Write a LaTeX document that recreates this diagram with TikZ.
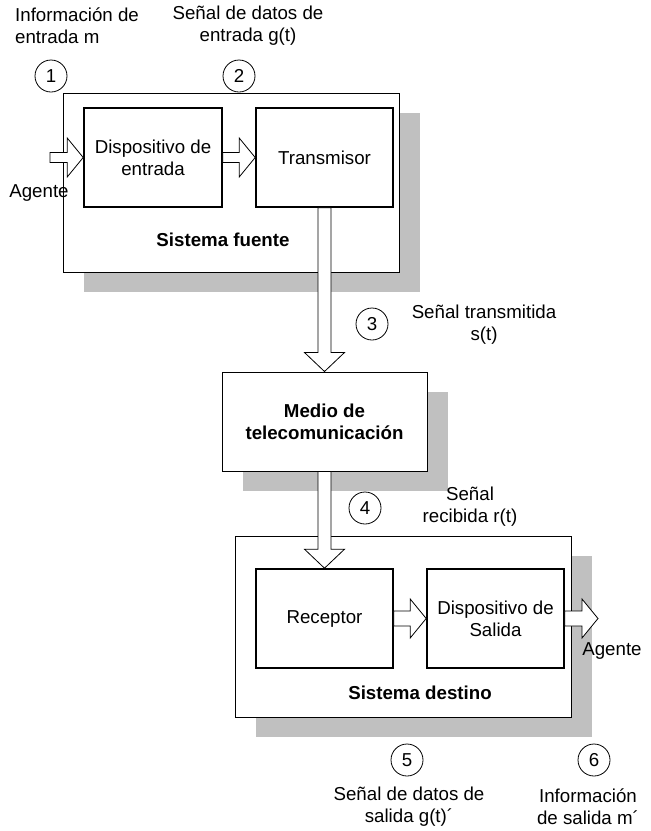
\documentclass[tikz,border=0pt]{standalone}
\usepackage{fontspec}
\setmainfont{Liberation Sans}
\usetikzlibrary{calc,shadows}

% horizontal block arrow: tail node/coordinate, tip node/coordinate, shaft half-width
\newcommand\hblockarrow[3]{%
  \draw[blockarrow] let \p1=(#1), \p2=(#2) in
    (\x1,\y2+#3) -- (\x2-16pt,\y2+#3) -- (\x2-16pt,\y2+19.5pt) -- (\x2,\y2)
    -- (\x2-16pt,\y2-19.5pt) -- (\x2-16pt,\y2-#3) -- (\x1,\y2-#3) -- cycle;}
% vertical (downward) block arrow
\newcommand\vblockarrow[3]{%
  \draw[blockarrow] let \p1=(#1), \p2=(#2) in
    (\x2-#3,\y1) -- (\x2-#3,\y2+19pt) -- (\x2-20pt,\y2+19pt) -- (\x2,\y2)
    -- (\x2+20pt,\y2+19pt) -- (\x2+#3,\y2+19pt) -- (\x2+#3,\y1) -- cycle;}

\begin{document}
\begin{tikzpicture}[x=1pt,y=-1pt,
  every node/.style={inner sep=0pt, font=\fontsize{18.7}{22}\selectfont},
  shadowbox/.style={drop shadow={shadow xshift=21pt, shadow yshift=-20pt, opacity=1, fill=shadowgray}},
  system/.style={draw, line width=0.9pt, fill=white, shadowbox},
  unit/.style={draw, line width=1.6pt, fill=white, align=center},
  medium/.style={draw, line width=1pt, fill=white, align=center, font=\fontsize{18.7}{22}\selectfont\bfseries, shadowbox},
  num/.style={draw, circle, line width=0.8pt, minimum size=32pt},
  label/.style={align=center},
  blockarrow/.style={draw, line width=0.8pt, fill=white, line join=miter},
]
\definecolor{shadowgray}{RGB}{192,192,192}
\useasboundingbox (0,0) rectangle (651,831);

% source system
\node[system, minimum width=336pt, minimum height=179pt] (fuente) at (231,182.5) {};
\node[unit, minimum width=138pt, minimum height=99pt] (entrada) at (153,157.5) {Dispositivo de\\entrada};
\node[unit, minimum width=137pt, minimum height=99pt] (tx) at (324.5,157.5) {Transmisor};
\node[font=\fontsize{18.7}{22}\selectfont\bfseries] (lfuente) at (223,240) {Sistema fuente};

% telecommunication medium
\node[medium, minimum width=205pt, minimum height=99pt] (medio) at (324.5,421.5) {Medio de\\telecomunicación};

% destination system
\node[system, minimum width=336pt, minimum height=181pt] (destino) at (403,626.5) {};
\node[unit, minimum width=137pt, minimum height=99pt] (rx) at (324.5,618.5) {Receptor};
\node[unit, minimum width=137pt, minimum height=99pt] (salida) at (495.5,618.5) {Dispositivo de\\Salida};
\node[font=\fontsize{18.7}{22}\selectfont\bfseries] (ldestino) at (420,693) {Sistema destino};

% block arrows
\coordinate (src) at (50,157.5);
\coordinate (dst) at (598,618.5);
\hblockarrow{src}{entrada.west}{5pt}
\hblockarrow{entrada.east}{tx.west}{5pt}
\vblockarrow{tx.south}{medio.north}{6.5pt}
\vblockarrow{medio.south}{rx.north}{6.5pt}
\hblockarrow{rx.east}{salida.west}{7.5pt}
\hblockarrow{salida.east}{dst}{7.5pt}

% numbered markers
\node[num] (n1) at (51,76) {1};
\node[num] (n2) at (239,76) {2};
\node[num] (n3) at (372,324) {3};
\node[num] (n4) at (365,508) {4};
\node[num] (n5) at (407,760) {5};
\node[num] (n6) at (594,760) {6};

% labels
\node[align=left, anchor=west] (t1) at (15,26) {Información de\\entrada m};
\node[label] (t2) at (248,26) {Señal de datos de\\entrada g(t)};
\node (agin) at (39,193) {Agente};
\node[label] (t3) at (484,325) {Señal transmitida\\s(t)};
\node[label] (t4) at (470,507) {Señal\\recibida r(t)};
\node (agout) at (612,651) {Agente};
\node[label] (t5) at (409,807) {Señal de datos de\\salida g(t)´};
\node[label] (t6) at (588,807) {Información\\de salida m´};
\end{tikzpicture}
\end{document}
